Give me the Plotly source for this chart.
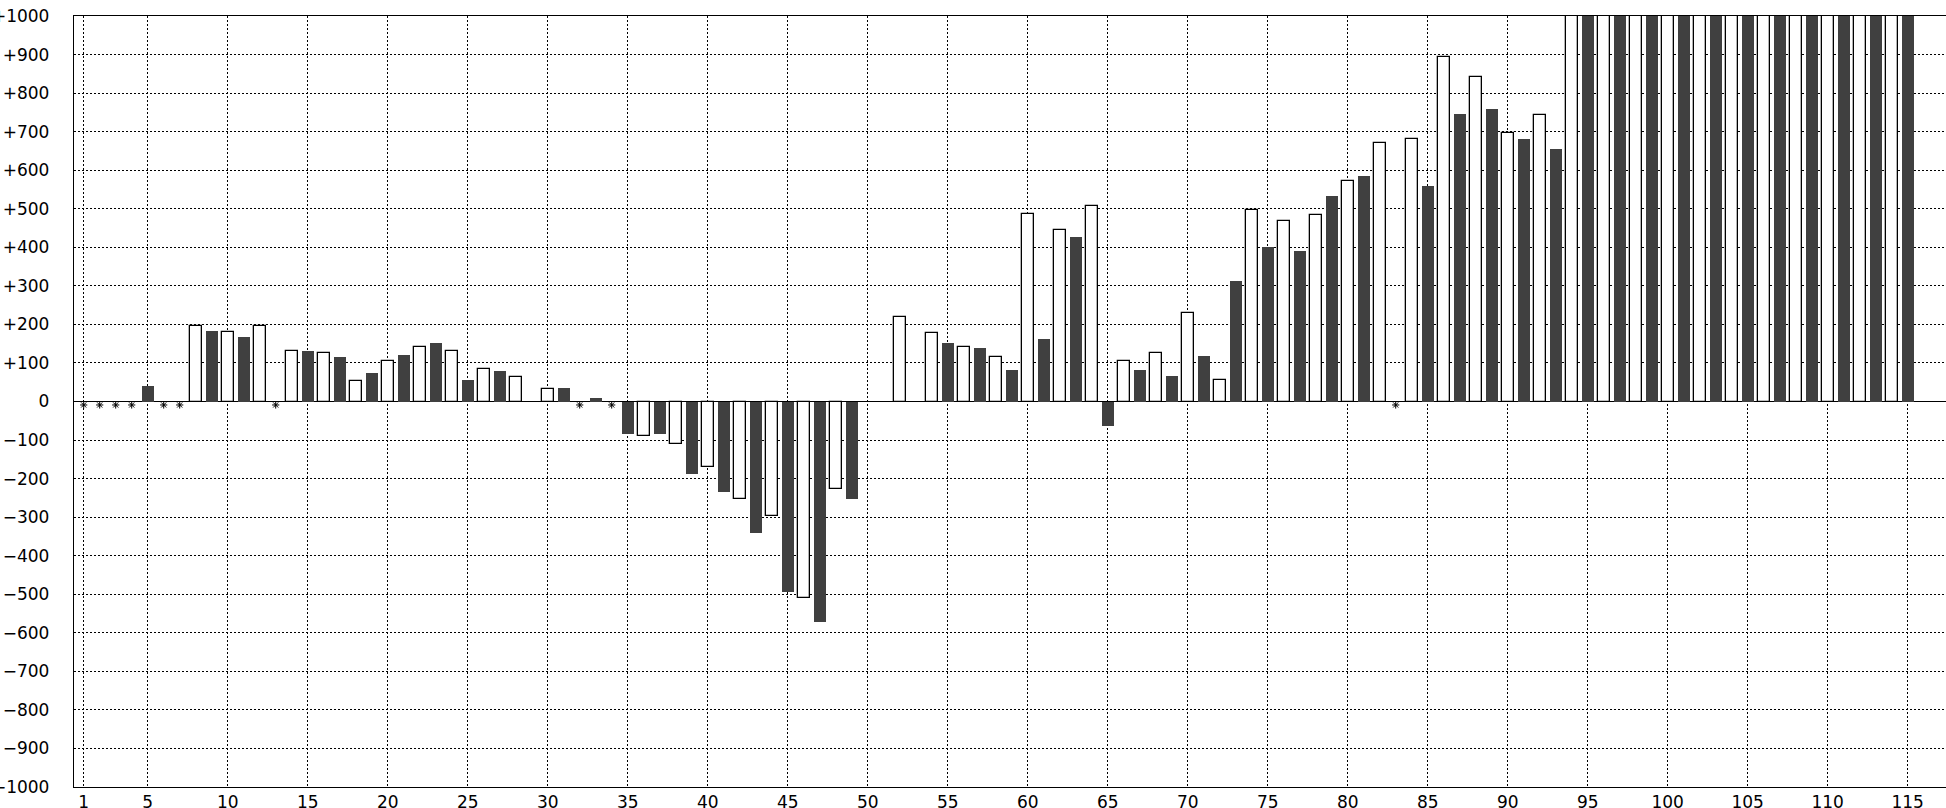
import plotly.graph_objects as go

# ---- data ----
categories = list(range(1, 116))
values = [
    None, None, None, None, 41, None, None, 195, 183, 180,        # 1-10
    168, 195, None, 132, 131, 127, 115, 54, 73, 106,              # 11-20
    120, 142, 152, 132, 57, 84, 78, 63, None, 32,                 # 21-30
    36, None, 10, None, -83, -90, -83, -110, -189, -169,          # 31-40
    -236, -253, -341, -296, -494, -511, -573, -226, -252, None,   # 41-50
    None, 220, None, 178, 151, 141, 140, 115, 83, 486,            # 51-60
    161, 444, 428, 507, -63, 105, 83, 125, 67, 230,               # 61-70
    119, 57, 313, 497, 400, 469, 390, 483, 534, 571,              # 71-80
    586, 670, None, 680, 560, 893, 747, 842, 758, 696,            # 81-90
    680, 743, 654, 1000, 1000, 1000, 1000, 1000, 1000, 1000,      # 91-100
    1000, 1000, 1000, 1000, 1000, 1000, 1000, 1000, 1000, 1000,   # 101-110
    1000, 1000, 1000, 1000, 1000,                                 # 111-115
]
missing = [1, 2, 3, 4, 6, 7, 13, 32, 34, 83]
x_tick_vals = [1] + list(range(5, 116, 5))
y_tick_vals = list(range(-1000, 1001, 100))
y_tick_text = [("+" + str(v)) if v > 0 else ("\u2212" + str(-v) if v < 0 else "0") for v in y_tick_vals]

DARK = "#404040"
fill = ["white" if c % 2 == 0 else DARK for c in categories]
lw = [1.3 if c % 2 == 0 else 0 for c in categories]

fig = go.Figure()
fig.add_trace(go.Bar(
    x=categories, y=values, width=0.75,
    marker=dict(color=fill, line=dict(color="black", width=lw)),
    hoverinfo="x+y", showlegend=False,
))
fig.add_trace(go.Scatter(
    x=missing, y=[-9] * len(missing), mode="markers",
    marker=dict(symbol="asterisk-open", size=6, color="black",
                line=dict(color="black", width=1)),
    showlegend=False, hoverinfo="skip",
))

font = dict(family="DejaVu Sans", size=17, color="black")
grid = dict(showgrid=True, gridcolor="black", gridwidth=1.2, griddash="2px,2px")

fig.update_layout(
    width=1946, height=808,
    margin=dict(l=74, r=0, t=16, b=21, pad=0),
    paper_bgcolor="white", plot_bgcolor="white",
    font=font, bargap=0,
    xaxis=dict(
        range=[0.394, 117.394], tickmode="array", tickvals=x_tick_vals,
        ticks="", ticklabelstandoff=-1, tickfont=font, automargin=False,
        showline=True, linecolor="black", linewidth=1.3, mirror=True,
        zeroline=False, fixedrange=True, **grid,
    ),
    yaxis=dict(
        range=[-1000, 1000], tickmode="array", tickvals=y_tick_vals,
        ticktext=y_tick_text, ticks="", ticklabelstandoff=20, tickfont=font,
        automargin=False,
        showline=True, linecolor="black", linewidth=1.3, mirror=False,
        zeroline=True, zerolinecolor="black", zerolinewidth=1.3,
        fixedrange=True, **grid,
    ),
)

fig.write_html(
    "out.html",
    config={"displayModeBar": False},
    post_script="document.body.style.margin='0';document.body.style.overflow='hidden';",
)
